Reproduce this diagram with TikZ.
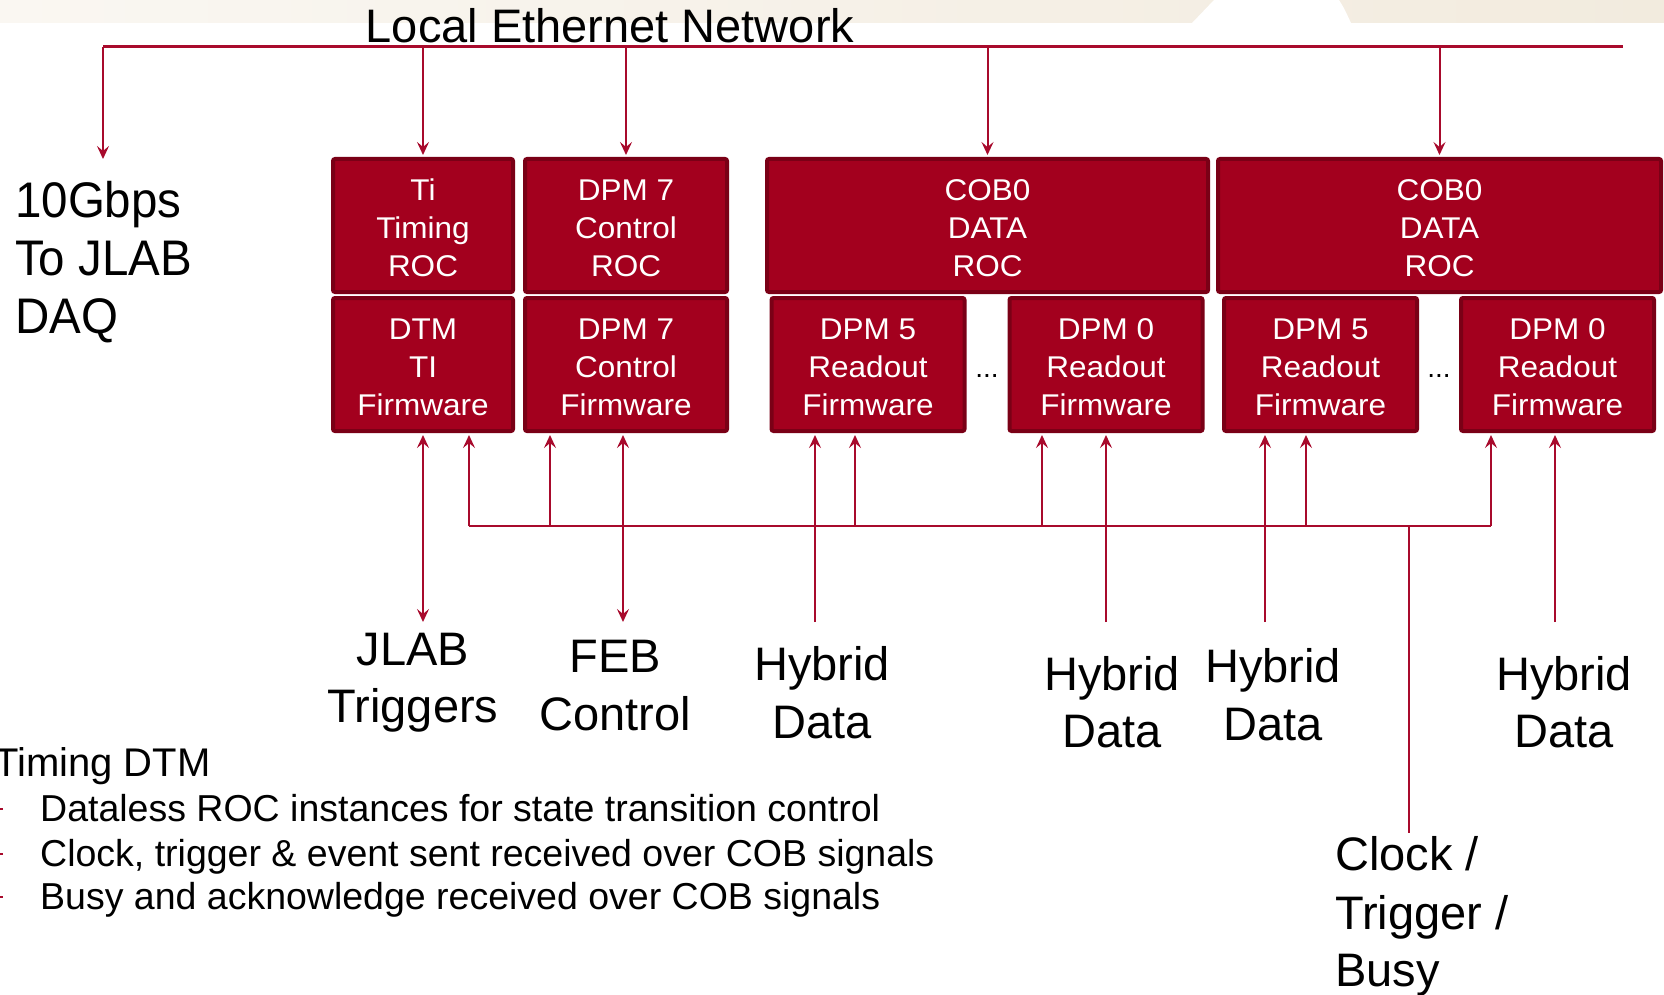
\documentclass[tikz,border=0pt]{standalone}
\usepackage{fontspec}
\setmainfont{Liberation Sans}
\newfontfamily\boxfont[FakeStretch=1.05]{Liberation Sans}
\newfontfamily\daqfont[FakeStretch=0.95]{Liberation Sans}
\usetikzlibrary{arrows.meta}
\definecolor{boxred}{HTML}{A3001E}
\definecolor{boxdark}{HTML}{7A0016}
\definecolor{linered}{HTML}{A80A2C}
\definecolor{bandL}{RGB}{250,247,242}
\definecolor{bandR}{RGB}{242,235,222}
\tikzset{
  rbox/.style={draw=boxdark, fill=boxred, line width=4pt, rounded corners=2pt,
    text=white, font=\boxfont\fontsize{30}{38}\selectfont, align=center, inner sep=0pt},
  conn/.style={draw=linered, line width=2pt, >={Stealth[length=13pt,width=12pt,inset=5pt]}},
  netline/.style={draw=linered, line width=3pt},
  lbl/.style={font=\fontsize{47}{56}\selectfont, inner sep=0pt, anchor=base},
  lblw/.style={font=\fontsize{47}{56}\selectfont, inner sep=0pt, anchor=base west},
  daql/.style={font=\daqfont\fontsize{50}{58}\selectfont, inner sep=0pt, anchor=base west},
  bul/.style={font=\fontsize{37.5}{44}\selectfont, inner sep=0pt, anchor=base west},
}
\newcommand{\fl}{\rule{0pt}{26.5pt}}
\begin{document}
\begin{tikzpicture}[x=1pt,y=-1pt]
\useasboundingbox (0,0) rectangle (1664,995);
% top band
\shade[left color=bandL, right color=bandR] (0,0) rectangle (1664,23);
\fill[white] (1192,23) -- (1214,0) -- (1339,0) .. controls (1344,8) .. (1351,23) -- cycle;

% boxes
\node[rbox, minimum width=180pt, minimum height=133pt] (ti) at (423,225.5) {\fl Ti\\Timing\\ROC};
\node[rbox, minimum width=202pt, minimum height=133pt] (dpm7roc) at (626,225.5) {\fl DPM 7\\Control\\ROC};
\node[rbox, minimum width=180pt, minimum height=133pt] (dtm) at (423,364.5) {\fl DTM\\TI\\Firmware};
\node[rbox, minimum width=202pt, minimum height=133pt] (dpm7fw) at (626,364.5) {\fl DPM 7\\Control\\Firmware};
\node[rbox, minimum width=441pt, minimum height=133pt] (cobL) at (987.5,225.5) {\fl COB0\\DATA\\ROC};
\node[rbox, minimum width=443pt, minimum height=133pt] (cobR) at (1439.5,225.5) {\fl COB0\\DATA\\ROC};
\node[rbox, minimum width=193pt, minimum height=133pt] (dpm5L) at (868,364.5) {\fl DPM 5\\Readout\\Firmware};
\node[rbox, minimum width=193pt, minimum height=133pt] (dpm0L) at (1106,364.5) {\fl DPM 0\\Readout\\Firmware};
\node[rbox, minimum width=193pt, minimum height=133pt] (dpm5R) at (1320.5,364.5) {\fl DPM 5\\Readout\\Firmware};
\node[rbox, minimum width=193pt, minimum height=133pt] (dpm0R) at (1557.5,364.5) {\fl DPM 0\\Readout\\Firmware};
\node[font=\fontsize{28}{34}\selectfont, inner sep=0pt, anchor=base] (dotsL) at (987,377) {...};
\node[font=\fontsize{28}{34}\selectfont, inner sep=0pt, anchor=base] (dotsR) at (1439,377) {...};

% network
\coordinate (netL) at (103,46.7);
\coordinate (netR) at (1623,46.7);
\coordinate (daq) at (103,159);
\draw[netline] (netL) -- (netR);
\draw[conn,->] (netL) -- (daq);
\foreach \n in {ti,dpm7roc,cobL,cobR}
  \draw[conn,->,shorten >=2pt] (\n.north |- netL) -- (\n.north);

% lower bus
\coordinate (busL) at (469,526);
\coordinate (busR) at (1491,526);
\coordinate (b1) at (550,526);
\coordinate (b2) at (855,526);
\coordinate (b3) at (1042,526);
\coordinate (b4) at (1306,526);
\coordinate (clkTop) at (1409,526);
\coordinate (clkEnd) at (1409,833);
\draw[conn] (busL) -- (busR);
\draw[conn,->,shorten >=2pt] (busL) -- (busL |- dtm.south);
\draw[conn,->,shorten >=2pt] (b1) -- (b1 |- dpm7fw.south);
\draw[conn,->,shorten >=2pt] (b2) -- (b2 |- dpm5L.south);
\draw[conn,->,shorten >=2pt] (b3) -- (b3 |- dpm0L.south);
\draw[conn,->,shorten >=2pt] (b4) -- (b4 |- dpm5R.south);
\draw[conn,->,shorten >=2pt] (busR) -- (busR |- dpm0R.south);
\draw[conn] (clkTop) -- (clkEnd);

% external signals
\coordinate (jlabEnd) at (423,622);
\coordinate (febEnd) at (623,622);
\coordinate (h1) at (815,622);
\coordinate (h2) at (1106,622);
\coordinate (h3) at (1265,622);
\coordinate (h4) at (1555,622);
\draw[conn,<->,shorten <=2pt] (jlabEnd |- dtm.south) -- (jlabEnd);
\draw[conn,<->,shorten <=2pt] (febEnd |- dpm7fw.south) -- (febEnd);
\draw[conn,->,shorten >=2pt] (h1) -- (h1 |- dpm5L.south);
\draw[conn,->,shorten >=2pt] (h2) -- (h2 |- dpm0L.south);
\draw[conn,->,shorten >=2pt] (h3) -- (h3 |- dpm5R.south);
\draw[conn,->,shorten >=2pt] (h4) -- (h4 |- dpm0R.south);

% labels
\node[lbl] (netlbl) at (610,43) {Local Ethernet Network};
\node[daql] (daq1) at (15,217) {10Gbps};
\node[daql] (daq2) at (15,275) {To JLAB};
\node[daql] (daq3) at (15,333) {DAQ};
\node[lbl] (jl1) at (413,665) {JLAB};
\node[lbl] (jl2) at (413,722) {Triggers};
\node[lbl] (fe1) at (615,672) {FEB};
\node[lbl] (fe2) at (615,730) {Control};
\node[lbl] (hy1a) at (822,680) {Hybrid};
\node[lbl] (hy1b) at (822,738) {Data};
\node[lbl] (hy2a) at (1112,690) {Hybrid};
\node[lbl] (hy2b) at (1112,747) {Data};
\node[lbl] (hy3a) at (1273,682) {Hybrid};
\node[lbl] (hy3b) at (1273,740) {Data};
\node[lbl] (hy4a) at (1564,690) {Hybrid};
\node[lbl] (hy4b) at (1564,747) {Data};
\node[lblw] (ck1) at (1335,870) {Clock /};
\node[lblw] (ck2) at (1335,929) {Trigger /};
\node[lblw] (ck3) at (1335,986) {Busy};

% bullets
\node[font=\fontsize{40}{48}\selectfont, inner sep=0pt, anchor=base west] (tdtm) at (-6,776) {Timing DTM};
\node[bul] (bu1) at (40,821) {Dataless ROC instances for state transition control};
\node[bul] (bu2) at (40,866) {Clock, trigger \& event sent received over COB signals};
\node[bul] (bu3) at (40,909) {Busy and acknowledge received over COB signals};
\foreach \yy in {809,854,897}
  \fill[linered] (0,\yy-1) rectangle (3,\yy+1);
\end{tikzpicture}
\end{document}
